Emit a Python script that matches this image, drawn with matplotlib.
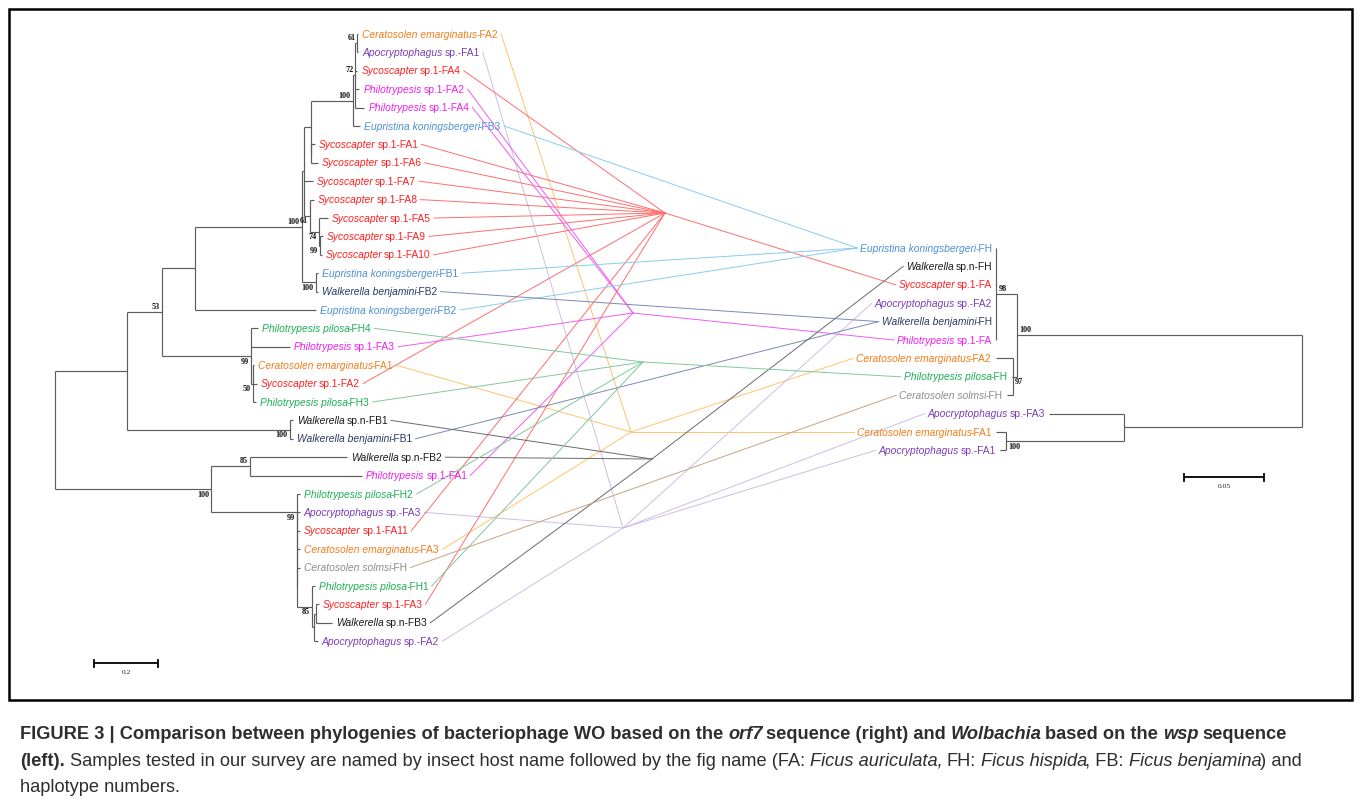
import numpy as np
import matplotlib
matplotlib.use("Agg")
import matplotlib.pyplot as plt
from matplotlib.patches import Rectangle

# ---- trees (branch lengths in substitutions/site, support as node labels) ----
# wsp (Wolbachia), left side
cl_K = "(Ceratosolen emarginatus-FA2:0.003,Apocryptophagus sp.-FA1:0.003)61:0.006"
cl_J = ("(" + cl_K + ",Sycoscapter sp.1-FA4:0.006,Philotrypesis sp.1-FA2:0.0125,"
        "Philotrypesis sp.1-FA4:0.028)72:0.009")
cl_I = "(" + cl_J + ",Eupristina koningsbergeri-FB3:0.022)100:0.131"
cl_L = "(Sycoscapter sp.1-FA1:0.0125,Sycoscapter sp.1-FA6:0.022):0.001"
cl_O = "(Sycoscapter sp.1-FA9:0.009,Sycoscapter sp.1-FA10:0.006)99:0.003"
cl_N = "(Sycoscapter sp.1-FA5:0.028," + cl_O + ")74:0.028"
cl_M = "(Sycoscapter sp.1-FA8:0.0125," + cl_N + ")61:0.019"
cl_F = "((" + cl_I + "," + cl_L + "):0.022,Sycoscapter sp.1-FA7:0.028," + cl_M + "):0.006"
cl_H = "(Eupristina koningsbergeri-FB1:0.006,Walkerella benjamini-FB2:0.006)100:0.044"
cl_D = "(" + cl_F + "," + cl_H + ")100:0.334"
cl_C = "(" + cl_D + ",Eupristina koningsbergeri-FB2:0.378):0.103"
cl_Q = ("(Ceratosolen emarginatus-FA1:0.003,Sycoscapter sp.1-FA2:0.012,"
        "Philotrypesis pilosa-FH3:0.009)50:0.006")
cl_P = "(Philotrypesis pilosa-FH4:0.022,Philotrypesis sp.1-FA3:0.122," + cl_Q + ")99:0.278"
cl_B = "(" + cl_C + "," + cl_P + ")53:0.109"
cl_R = "(Walkerella sp.n-FB1:0.009,Walkerella benjamini-FB1:0.009)100:0.509"
cl_A = "(" + cl_B + "," + cl_R + "):0.225"
cl_T = "(Walkerella sp.n-FB2:0.303,Philotrypesis sp.1-FA1:0.35)85:0.122"
cl_W = ("((Sycoscapter sp.1-FA3:0.009,Walkerella sp.n-FB3:0.05):0.006,"
        "Apocryptophagus sp.-FA2:0.012):0.006")
cl_V = "(Philotrypesis pilosa-FH1:0.009," + cl_W + ")85:0.047"
cl_U = ("(Philotrypesis pilosa-FH2:0.009,(Apocryptophagus sp.-FA3:0.009,"
        "(Sycoscapter sp.1-FA11:0.009,(Ceratosolen emarginatus-FA3:0.009,"
        "(Ceratosolen solmsi-FH:0.009," + cl_V + "):0):0):0):0)99:0.269")
cl_S = "(" + cl_T + "," + cl_U + ")100:0.4875"
wsp_tree = "(" + cl_A + "," + cl_S + ");"

# orf7 (phage WO), right side
cl_98 = ("(Eupristina koningsbergeri-FH:0,Walkerella sp.n-FH:0,Sycoscapter sp.1-FA:0,"
         "Apocryptophagus sp.-FA2:0,Walkerella benjamini-FH:0,Philotrypesis sp.1-FA:0)98:0.013")
cl_97 = ("(Ceratosolen emarginatus-FA2:0.011,Philotrypesis pilosa-FH:0.001,"
         "Ceratosolen solmsi-FH:0.004)97:0.0025")
cl_AP = ("(Apocryptophagus sp.-FA3:0.047,(Ceratosolen emarginatus-FA1:0.006,"
         "Apocryptophagus sp.-FA1:0.004)100:0.074):0.111")
orf7_tree = "((" + cl_98 + "," + cl_97 + ")100:0.178," + cl_AP + ");"

taxa = ["Ceratosolen emarginatus", "Apocryptophagus sp.", "Sycoscapter sp.1",
        "Philotrypesis sp.1", "Eupristina koningsbergeri", "Walkerella benjamini",
        "Walkerella sp.n", "Philotrypesis pilosa", "Ceratosolen solmsi"]
text_colors = ["#F07D1A", "#7A3DB8", "#FF1F1F", "#F01EF0", "#4D8FD6",
               "#2B3A63", "#1A1A1A", "#1DB054", "#8C8C8C"]
link_colors = ["#FFC36E", "#CDBDE6", "#FF6E6E", "#F25CF2", "#86CDEF",
               "#7D88B3", "#6A6A6A", "#80C99E", "#C4A484"]

# where the links of one host converge between the two trees
hubs = {"Sycoscapter sp.1": (665, 213), "Philotrypesis sp.1": (633, 313),
        "Philotrypesis pilosa": (643, 362), "Ceratosolen emarginatus": (631, 432),
        "Apocryptophagus sp.": (623, 528), "Walkerella sp.n": (652, 459)}

TREE = "#5c5c5c"
LABEL_FONT = "Liberation Sans"
LABEL_SIZE = 7.4
BOOT_FONT = "Liberation Serif"
SPACE_EM = 0.278   # advance of a space in the Liberation Sans faces
SLANT_EM = 0.09    # ink overhang at the end of an italic run


def parse_newick(s):
    s = s.strip().rstrip(";")
    pos = 0

    def read():
        nonlocal pos
        kids = []
        if s[pos] == "(":
            pos += 1
            while True:
                kids.append(read())
                c = s[pos]
                pos += 1
                if c == ")":
                    break
        start = pos
        while pos < len(s) and s[pos] not in ":,)":
            pos += 1
        label = s[start:pos].strip()
        length = 0.0
        if pos < len(s) and s[pos] == ":":
            pos += 1
            start = pos
            while pos < len(s) and s[pos] not in ",)":
                pos += 1
            length = float(s[start:pos])
        return {"kids": kids, "label": label, "len": length}

    return read()


def place(node, depth, rows, first=True):
    node["d"] = depth + node["len"]
    node["first"] = first
    if not node["kids"]:
        node["y"] = next(rows)
        return
    for i, k in enumerate(node["kids"]):
        place(k, node["d"], rows, i == 0)
    node["y"] = (node["kids"][0]["y"] + node["kids"][-1]["y"]) / 2


def walk(node):
    yield node
    for k in node["kids"]:
        yield from walk(k)


def ink_width(s, **kw):
    t = ax.text(0, 0, s, **kw)
    w = t.get_window_extent(R).width
    t.remove()
    return w


def put_runs(x, y, runs, ha="left", **kw):
    # runs: (text, style, weight); drawn one after another on a baseline
    em = kw["fontsize"] * 100 / 72
    pieces = []
    for i, (s, st, wt) in enumerate(runs):
        lead = len(s) - len(s.lstrip(" "))
        trail = len(s) - len(s.rstrip(" "))
        body = s.strip(" ")
        w = ink_width(body, style=st, weight=wt, **kw) if body else 0.0
        if st == "italic" and i < len(runs) - 1:
            w -= SLANT_EM * em
        pieces.append((body, st, wt, lead * SPACE_EM * em, w, trail * SPACE_EM * em))
    total = sum(a + w + b for _, _, _, a, w, b in pieces)
    if ha == "right":
        x -= total
    x0 = x
    for body, st, wt, a, w, b in pieces:
        x += a
        if body:
            ax.text(x, y, body, style=st, weight=wt, va="baseline", ha="left", **kw)
        x += w + b
    return x0, x0 + total


def leaf_runs(name):
    taxon, code = name.rsplit("-", 1)
    ital = " ".join(w for w in taxon.split() if not w.startswith("sp"))
    rest = taxon[len(ital):] + "-" + code
    return taxon, [(ital, "italic", "normal"), (rest, "normal", "normal")]


def draw_tree(newick, x0, scale, sign, rows):
    root = parse_newick(newick)
    place(root, 0.0, iter(rows))
    px = lambda d: x0 + sign * scale * d
    leaves = []
    for nd in walk(root):
        if nd["kids"]:
            ax.plot([px(nd["d"])] * 2, [nd["kids"][0]["y"], nd["kids"][-1]["y"]],
                    color=TREE, lw=0.85, solid_capstyle="butt", zorder=2)
            for k in nd["kids"]:
                ax.plot([px(nd["d"]), px(k["d"])], [k["y"]] * 2, color=TREE, lw=0.85,
                        solid_capstyle="butt", zorder=2)
            if nd["label"] and nd is not root:
                above = nd["first"]
                ax.text(px(nd["d"]) - sign * 2, nd["y"] + (-1 if above else 1.5),
                        nd["label"], family=BOOT_FONT, weight="bold", fontsize=5.9,
                        color="#111111", ha="right" if sign > 0 else "left",
                        va="bottom" if above else "top", zorder=3)
        else:
            taxon, runs = leaf_runs(nd["label"])
            col = text_colors[taxa.index(taxon)]
            tip = px(nd["d"])
            base = nd["y"] + 3.6
            if sign > 0:
                a, b = put_runs(tip + 4, base, runs, family=LABEL_FONT,
                                fontsize=LABEL_SIZE, color=col, zorder=3)
            else:
                a, b = put_runs(tip - 4, base, runs, ha="right", family=LABEL_FONT,
                                fontsize=LABEL_SIZE, color=col, zorder=3)
            leaves.append((taxon, a, b, nd["y"]))
    return leaves


def scale_bar(x, y, value, scale, text):
    x1 = x + value * scale
    ax.plot([x, x1], [y, y], color="black", lw=1.3, solid_capstyle="butt")
    ax.plot([x, x], [y - 3.5, y + 3.5], color="black", lw=1.3)
    ax.plot([x1, x1], [y - 3.5, y + 3.5], color="black", lw=1.3)
    ax.text((x + x1) / 2, y + 10, text, family=BOOT_FONT, fontsize=5.4,
            color="#222222", ha="center", va="center")


fig = plt.figure(figsize=(13.6, 8), dpi=100)
ax = fig.add_axes([0, 0, 1, 1])
ax.set_xlim(0, 1360)
ax.set_ylim(800, 0)
ax.axis("off")
R = fig.canvas.get_renderer()

step = 18.4
left = draw_tree(wsp_tree, 55, 320, 1, 34 + step * np.arange(34))
right = draw_tree(orf7_tree, 1302, 1600, -1, 248 + step * np.arange(12))

# links between the host names of the two trees
for taxon, lc in zip(taxa, link_colors):
    starts = [(b + 3, y) for t, a, b, y in left if t == taxon]
    ends = [(a - 3, y) for t, a, b, y in right if t == taxon]
    if taxon in hubs:
        hx, hy = hubs[taxon]
        for sx, sy in starts:
            ax.plot([sx, hx], [sy, hy], color=lc, lw=0.7, zorder=1)
        for ex, ey in ends:
            ax.plot([hx, ex], [hy, ey], color=lc, lw=0.7, zorder=1)
    else:
        for sx, sy in starts:
            for ex, ey in ends:
                ax.plot([sx, ex], [sy, ey], color=lc, lw=0.7, zorder=1)

scale_bar(94, 663, 0.2, 320, "0.2")
scale_bar(1184, 477, 0.05, 1600, "0.05")

ax.add_patch(Rectangle((9, 9), 1343, 691, fill=False, edgecolor="black", lw=1.8))

# caption
cap_font = "Liberation Sans"
line1 = [("FIGURE 3 | Comparison between phylogenies of bacteriophage WO based on the ", "normal", "bold"),
         ("orf7", "italic", "bold"), (" sequence (right) and ", "normal", "bold"),
         ("Wolbachia", "italic", "bold"), (" based on the ", "normal", "bold"),
         ("wsp", "italic", "bold"), (" sequence", "normal", "bold")]
line2 = [("(left).", "normal", "bold"),
         (" Samples tested in our survey are named by insect host name followed by the fig name (FA: ",
          "normal", "normal"),
         ("Ficus auriculata,", "italic", "normal"), (" FH: ", "normal", "normal"),
         ("Ficus hispida", "italic", "normal"), (", FB: ", "normal", "normal"),
         ("Ficus benjamina", "italic", "normal"), (") and", "normal", "normal")]
line3 = [("haplotype numbers.", "normal", "normal")]


def runs_width(runs, size):
    sp = SPACE_EM * size * 100 / 72
    total = 0.0
    for s, st, wt in runs:
        body = s.strip(" ")
        total += (len(s) - len(body)) * sp
        if body:
            total += ink_width(body, style=st, weight=wt, family=cap_font, fontsize=size)
    return total


cap_size = min(10 * 1330 / runs_width(line1, 10), 10 * 1290 / runs_width(line2, 10))
for runs, y in zip([line1, line2, line3], [739, 766, 792]):
    put_runs(20, y, runs, family=cap_font, fontsize=cap_size, color="#2e2e2e")

fig.savefig("out.png", dpi=100)
